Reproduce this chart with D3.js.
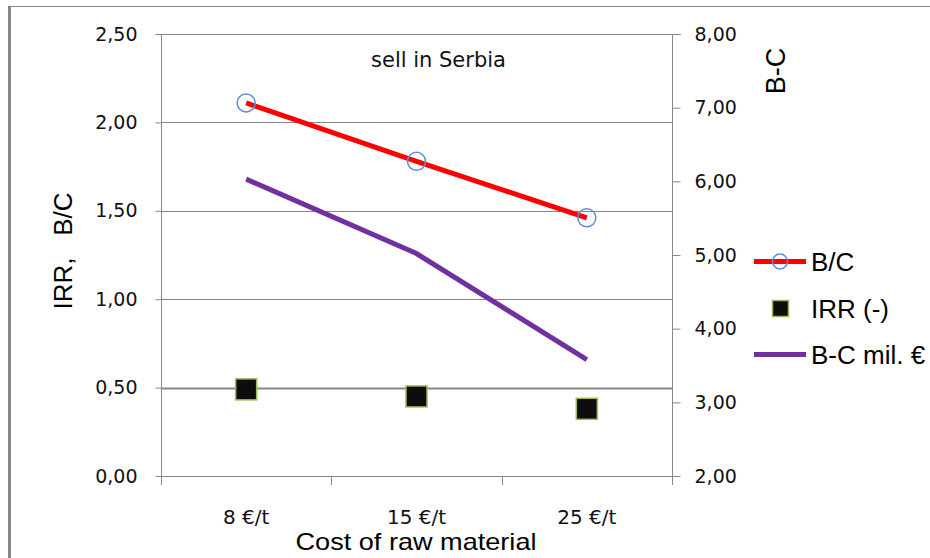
<!DOCTYPE html>
<html>
<head>
<meta charset="utf-8">
<script src="https://cdn.jsdelivr.net/npm/d3@7"></script>
<style>
  html, body { margin: 0; padding: 0; background: #fff; }
  svg { display: block; }
</style>
</head>
<body>
<svg id="chart" width="930" height="558"></svg>
<script>
// Cost scenarios and their results
const categories = ["8 €/t", "15 €/t", "25 €/t"];
const bcRatio = [2.11, 1.78, 1.46];      // B/C (left axis)
const irr = [0.49, 0.45, 0.38];          // IRR (-) (left axis)
const netBenefit = [6.03, 5.02, 3.58];   // B-C mil. € (right axis)
const leftTicks = [0, 0.5, 1, 1.5, 2, 2.5];
const rightTicks = [2, 3, 4, 5, 6, 7, 8];

const svg = d3.select("#chart");
const W = 930, H = 558;
const plot = { left: 161, right: 672, top: 34, bottom: 476 };
const gray = "#878787";

const locale = d3.formatLocale({ decimal: ",", thousands: ".", grouping: [3], currency: ["", " €"] });
const fmt = locale.format(".2f");

const x = d3.scaleBand().domain(categories).range([plot.left, plot.right]);
const yL = d3.scaleLinear().domain([0, 2.5]).range([plot.bottom, plot.top]);
const yR = d3.scaleLinear().domain([2, 8]).range([plot.bottom, plot.top]);

// frame
svg.append("line").attr("x1", 9.5).attr("x2", 9.5).attr("y1", 6).attr("y2", H)
  .attr("stroke", gray).attr("stroke-width", 3);
svg.append("line").attr("x1", 8).attr("x2", W).attr("y1", 6.5).attr("y2", 6.5)
  .attr("stroke", gray).attr("stroke-width", 1);

// horizontal gridlines from the left axis
svg.append("g").selectAll("line").data(leftTicks.filter(d => d > 0)).join("line")
  .attr("x1", plot.left).attr("x2", plot.right)
  .attr("y1", d => Math.round(yL(d)) + 0.5).attr("y2", d => Math.round(yL(d)) + 0.5)
  .attr("stroke", gray).attr("stroke-width", d => d === 0.5 ? 2 : 1);

// left axis
const gL = svg.append("g").attr("transform", `translate(${plot.left + 0.5},0)`)
  .call(d3.axisLeft(yL).tickValues(leftTicks).tickFormat(fmt).tickSize(6).tickPadding(18));
// right axis
const gR = svg.append("g").attr("transform", `translate(${plot.right + 0.5},0)`)
  .call(d3.axisRight(yR).tickValues(rightTicks).tickFormat(fmt).tickSize(8).tickPadding(14));
// bottom axis with category boundary ticks
const gB = svg.append("g").attr("transform", `translate(0,${plot.bottom + 0.5})`)
  .call(d3.axisBottom(x).tickSize(0).tickPadding(33));

[gL, gR, gB].forEach(g => {
  g.select(".domain").attr("stroke", gray);
  g.selectAll(".tick line").attr("stroke", gray);
  g.selectAll("text").attr("fill", "#111")
    .style("font-family", "'DejaVu Sans', Verdana, sans-serif").style("font-size", "19px");
});
gB.selectAll("text").style("font-size", "20px");
gL.select(".domain").attr("d", `M-6,${plot.top + 0.5}H0V${plot.bottom + 8}`);
gR.select(".domain").attr("d", `M8,${plot.top + 0.5}H0V${plot.bottom + 8}`);
gB.select(".domain").attr("d", `M${plot.left},0H${plot.right}`);

const bounds = [plot.left, ...categories.map(c => x(c) + x.bandwidth())];
svg.append("g").selectAll("line").data(bounds).join("line")
  .attr("x1", d => Math.round(d) + 0.5).attr("x2", d => Math.round(d) + 0.5)
  .attr("y1", plot.bottom).attr("y2", plot.bottom + 9)
  .attr("stroke", gray);

const cx = c => x(c) + x.bandwidth() / 2;

// B-C line (right axis)
svg.append("path").datum(netBenefit)
  .attr("d", d3.line().x((d, i) => cx(categories[i])).y(d => yR(d)))
  .attr("fill", "none").attr("stroke", "#7030a0").attr("stroke-width", 5);

// B/C line with open circle markers
svg.append("path").datum(bcRatio)
  .attr("d", d3.line().x((d, i) => cx(categories[i])).y(d => yL(d)))
  .attr("fill", "none").attr("stroke", "#ff0000").attr("stroke-width", 5);
svg.append("g").selectAll("circle").data(bcRatio).join("circle")
  .attr("cx", (d, i) => cx(categories[i])).attr("cy", d => yL(d)).attr("r", 9)
  .attr("fill", "none").attr("stroke", "#5b8fd3").attr("stroke-width", 1.5);

// IRR square markers
svg.append("g").selectAll("rect").data(irr).join("rect")
  .attr("x", (d, i) => cx(categories[i]) - 10.5).attr("y", d => yL(d) - 10.5)
  .attr("width", 21).attr("height", 21)
  .attr("fill", "#0d0d0d").attr("stroke", "#9bbb59").attr("stroke-width", 1.5);

// titles
svg.append("text").attr("x", 438.5).attr("y", 67).attr("text-anchor", "middle")
  .style("font-family", "'DejaVu Sans', Verdana, sans-serif").style("font-size", "21px")
  .attr("fill", "#111").text("sell in Serbia");

svg.append("text").attr("x", 416).attr("y", 550).attr("text-anchor", "middle")
  .style("font-family", "'Liberation Sans', Arial, sans-serif").style("font-size", "24px")
  .attr("textLength", 241).attr("lengthAdjust", "spacingAndGlyphs")
  .attr("fill", "#000").text("Cost of raw material");

svg.append("text").attr("transform", "translate(72,251) rotate(-90)").attr("text-anchor", "middle")
  .style("font-family", "'Liberation Sans', Arial, sans-serif").style("font-size", "26px")
  .style("white-space", "pre").attr("xml:space", "preserve")
  .attr("fill", "#000").text("IRR,   B/C");

svg.append("text").attr("transform", "translate(785,71) rotate(-90)").attr("text-anchor", "middle")
  .style("font-family", "'Liberation Sans', Arial, sans-serif").style("font-size", "27px")
  .attr("fill", "#000").text("B-C");

// legend
const legend = svg.append("g").attr("transform", "translate(754,0)");
const rows = [
  { name: "B/C", y: 261.5, type: "bc" },
  { name: "IRR (-)", y: 308.5, type: "irr" },
  { name: "B-C mil. €", y: 354.5, type: "net" }
];
rows.forEach(r => {
  if (r.type === "bc") {
    legend.append("line").attr("x1", 0).attr("x2", 52).attr("y1", r.y).attr("y2", r.y)
      .attr("stroke", "#ff0000").attr("stroke-width", 5);
    legend.append("circle").attr("cx", 26).attr("cy", r.y).attr("r", 7.5)
      .attr("fill", "none").attr("stroke", "#5b8fd3").attr("stroke-width", 1.5);
  } else if (r.type === "irr") {
    legend.append("rect").attr("x", 18.5).attr("y", r.y - 8).attr("width", 16).attr("height", 16)
      .attr("fill", "#0d0d0d").attr("stroke", "#9bbb59").attr("stroke-width", 1.5);
  } else {
    legend.append("line").attr("x1", 0).attr("x2", 52).attr("y1", r.y).attr("y2", r.y)
      .attr("stroke", "#7030a0").attr("stroke-width", 5);
  }
  legend.append("text").attr("x", 57).attr("y", r.y + 9.5)
    .style("font-family", "'Liberation Sans', Arial, sans-serif").style("font-size", "26px")
    .attr("fill", "#000").text(r.name);
});
</script>
</body>
</html>
